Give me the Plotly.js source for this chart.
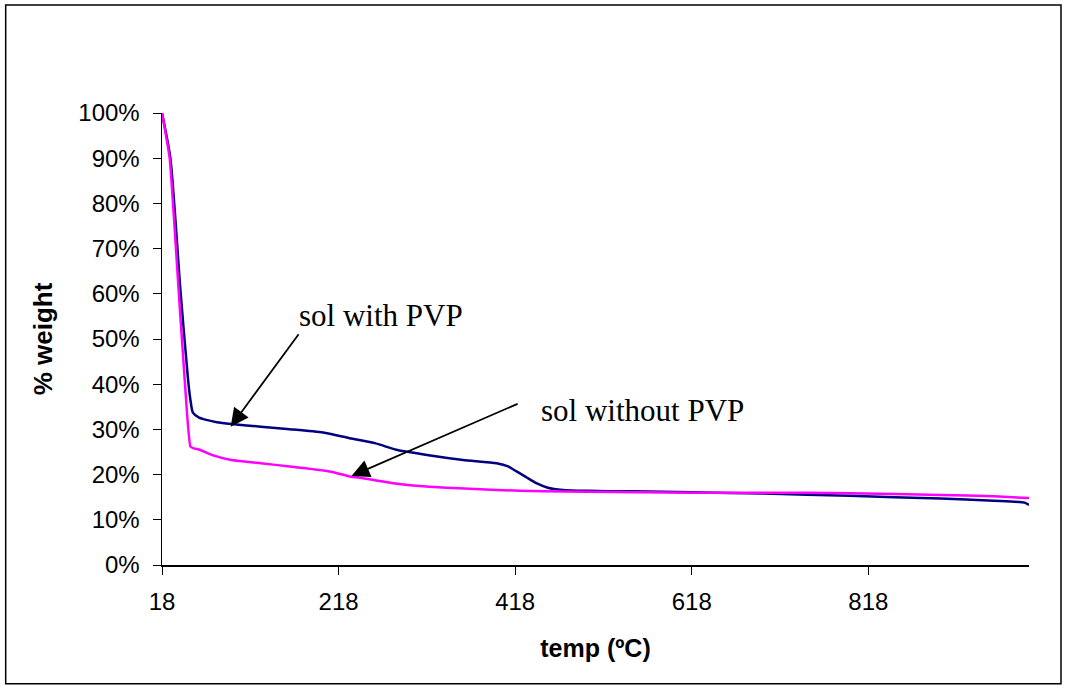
<!DOCTYPE html>
<html>
<head>
<meta charset="utf-8">
<script src="https://cdn.plot.ly/plotly-3.0.1.min.js"></script>
<style>
html,body{margin:0;padding:0;background:#fff;}
#chart{width:1067px;height:689px;}
</style>
</head>
<body>
<div id="chart"></div>
<script>
// temperature (ºC) and % weight for the two samples
const tempWithPVP = [18, 27.5, 38.8, 47.5, 50.2, 53, 60, 68.3, 80, 96.6, 130, 162.7, 200.5, 230.7, 260, 283.6, 320, 359, 397, 410, 419.6, 430, 442, 455, 472, 500, 550, 618, 700, 797, 900, 960, 995, 1000];
const weightWithPVP = [100, 90, 61, 41, 36.5, 33.7, 32.6, 32.1, 31.6, 31.2, 30.6, 30.05, 29.3, 28.05, 26.9, 25.5, 24.3, 23.25, 22.5, 21.8, 20.7, 19.5, 18.1, 17.1, 16.6, 16.4, 16.3, 16.1, 15.8, 15.3, 14.7, 14.2, 13.8, 13.3];

const tempWithoutPVP = [18, 26.7, 36.6, 43.7, 50.2, 54, 60.7, 75, 96.6, 130, 162.7, 208, 230.7, 245.8, 280, 321, 360, 397, 450, 500, 618, 700, 797, 900, 960, 1000];
const weightWithoutPVP = [100, 90, 61.5, 41, 26.2, 25.8, 25.5, 24.3, 23.25, 22.5, 21.8, 20.7, 19.6, 19.2, 18.1, 17.3, 16.9, 16.6, 16.3, 16.2, 16.0, 16.0, 15.9, 15.5, 15.2, 14.8];

const xTicks = [18, 218, 418, 618, 818];
const xTickLabels = ["18", "218", "418", "618", "818"];
const yTicks = [0, 0.1, 0.2, 0.3, 0.4, 0.5, 0.6, 0.7, 0.8, 0.9, 1.0];

const sans = 'Liberation Sans, Arial, sans-serif';
const serif = 'Liberation Serif, Times New Roman, serif';

const traces = [
  {
    x: tempWithPVP,
    y: weightWithPVP.map(v => v / 100),
    mode: 'lines',
    name: 'sol with PVP',
    line: {color: '#000080', width: 2.5, shape: 'spline', smoothing: 0.6}
  },
  {
    x: tempWithoutPVP,
    y: weightWithoutPVP.map(v => v / 100),
    mode: 'lines',
    name: 'sol without PVP',
    line: {color: '#FF00FF', width: 2.5, shape: 'spline', smoothing: 0.4}
  }
];

const layout = {
  width: 1067,
  height: 689,
  margin: {l: 162, r: 38, t: 113, b: 124},
  paper_bgcolor: '#ffffff',
  plot_bgcolor: '#ffffff',
  showlegend: false,
  font: {family: sans, color: '#000'},
  xaxis: {
    range: [18, 1000],
    tickmode: 'array',
    tickvals: xTicks,
    ticktext: xTickLabels,
    ticks: 'outside',
    ticklen: 8,
    tickcolor: '#000',
    ticklabelstandoff: 7,
    showline: true,
    linecolor: '#000',
    linewidth: 1.5,
    showgrid: false,
    zeroline: false,
    tickfont: {size: 24, family: sans, color: '#000'},
    title: {text: '<b>temp (ºC)</b>', font: {size: 25, family: sans, color: '#000'}, standoff: 25}
  },
  yaxis: {
    range: [0, 1],
    tickmode: 'array',
    tickvals: yTicks,
    tickformat: '.0%',
    ticks: 'outside',
    ticklen: 8,
    tickcolor: '#000',
    ticklabelstandoff: 8,
    showline: true,
    linecolor: '#000',
    linewidth: 1.5,
    showgrid: false,
    zeroline: false,
    tickfont: {size: 24, family: sans, color: '#000'},
    title: {text: '<b>% weight</b>', font: {size: 26, family: sans, color: '#000'}, standoff: 18}
  },
  shapes: [
    {type: 'rect', xref: 'paper', yref: 'paper', x0: -0.1803, x1: 1.0369, y0: -0.2625, y1: 1.2392,
     line: {color: '#000', width: 1.5}, fillcolor: 'rgba(0,0,0,0)'}
  ],
  annotations: [
    {x: 266.4, y: 0.552, xref: 'x', yref: 'y', text: 'sol with PVP', showarrow: false,
     font: {family: serif, size: 31, color: '#000'}},
    {x: 562, y: 0.341, xref: 'x', yref: 'y', text: 'sol without PVP', showarrow: false,
     font: {family: serif, size: 31, color: '#000'}},
    {x: 95.8, y: 0.306, ax: 174, ay: 0.514, xref: 'x', yref: 'y', axref: 'x', ayref: 'y',
     text: '', showarrow: true, arrowhead: 2, arrowsize: 2, arrowwidth: 1.8, arrowcolor: '#000', standoff: 0},
    {x: 232.6, y: 0.197, ax: 422.5, ay: 0.358, xref: 'x', yref: 'y', axref: 'x', ayref: 'y',
     text: '', showarrow: true, arrowhead: 2, arrowsize: 2, arrowwidth: 1.8, arrowcolor: '#000', standoff: 0}
  ]
};

Plotly.newPlot('chart', traces, layout, {displayModeBar: false, staticPlot: true});
</script>
</body>
</html>
